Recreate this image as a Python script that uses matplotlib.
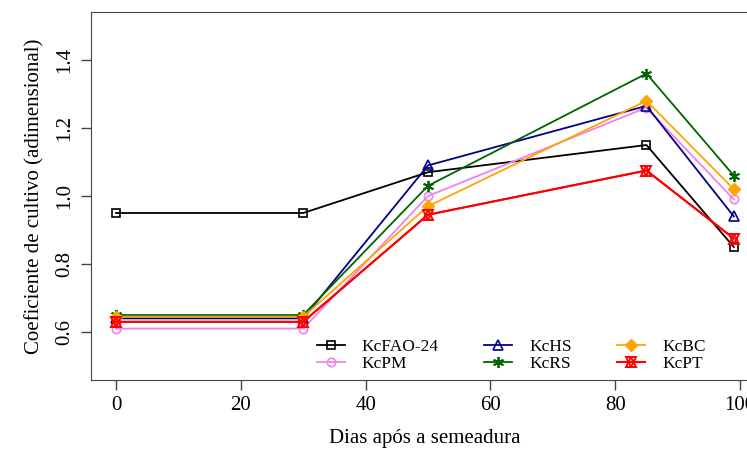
import numpy as np
import matplotlib.pyplot as plt
from matplotlib.legend_handler import HandlerTuple

plt.rcParams['font.family'] = ['Liberation Serif', 'DejaVu Serif']

# Data
dias = [0, 30, 50, 85, 99]
kc_fao = [0.95, 0.95, 1.07, 1.15, 0.85]
kc_pm = [0.61, 0.61, 1.00, 1.26, 0.99]
kc_hs = [0.64, 0.64, 1.09, 1.265, 0.94]
kc_rs = [0.65, 0.65, 1.03, 1.36, 1.06]
kc_bc = [0.645, 0.645, 0.97, 1.28, 1.02]
kc_pt = [0.63, 0.63, 0.945, 1.075, 0.875]

fig = plt.figure(figsize=(7.47, 4.51), dpi=100)
ax = fig.add_axes([91.3/747, 1-379.6/451, (758.5-91.3)/747, (379.6-12.4)/451])

lw = 1.3
ms = 6
h_fao, = ax.plot(dias, kc_fao, '-', color='black', lw=lw, marker='s', ms=ms, mfc='none', mew=1.2)
h_pm, = ax.plot(dias, kc_pm, '-', color='violet', lw=lw, marker='o', ms=ms, mfc='none', mew=1.2)
h_hs, = ax.plot(dias, kc_hs, '-', color='darkblue', lw=lw, marker='^', ms=ms+1, mfc='none', mew=1.2)
h_rs, = ax.plot(dias, kc_rs, '-', color='darkgreen', lw=lw, marker=(6, 2, 0), ms=ms+2, mew=1.3)
h_bc, = ax.plot(dias, kc_bc, '-', color='orange', lw=lw, marker='D', ms=ms, mew=1.0)
h_pt, = ax.plot(dias, kc_pt, '-', color='red', lw=lw, marker='^', ms=ms+1, mfc='none', mew=1.4)
h_pt2, = ax.plot(dias, kc_pt, 'none', color='red', marker='v', ms=ms+1, mfc='none', mew=1.4)

ax.set_xlim(-3.96, 102.96)
ax.set_ylim(0.46, 1.54)
ax.set_xticks([0, 20, 40, 60, 80, 100])
ax.set_yticks([0.6, 0.8, 1.0, 1.2, 1.4])
ax.set_yticklabels(['0.6', '0.8', '1.0', '1.2', '1.4'], rotation=90, va='center')
ax.tick_params(direction='out', length=7, width=1, labelsize=15, pad=5, color='#444444')
for s in ax.spines.values():
    s.set_color('#444444')

ax.set_xlabel('Dias após a semeadura', fontsize=15, labelpad=10)
ax.set_ylabel('Coeficiente de cultivo (adimensional)', fontsize=15, labelpad=8)

handles = [h_fao, h_pm, h_hs, h_rs, h_bc, (h_pt, h_pt2)]
labels = ['KcFAO-24', 'KcPM', 'KcHS', 'KcRS', 'KcBC', 'KcPT']
ax.legend(handles, labels, ncol=3, frameon=False, fontsize=12.5,
          loc='lower left', bbox_to_anchor=(0.338, 0.02),
          borderaxespad=0, borderpad=0,
          handlelength=1.6, columnspacing=2.6, labelspacing=0.05,
          handletextpad=1.0, handler_map={tuple: HandlerTuple(ndivide=1, pad=0)})

fig.savefig('out.png', dpi=100)
